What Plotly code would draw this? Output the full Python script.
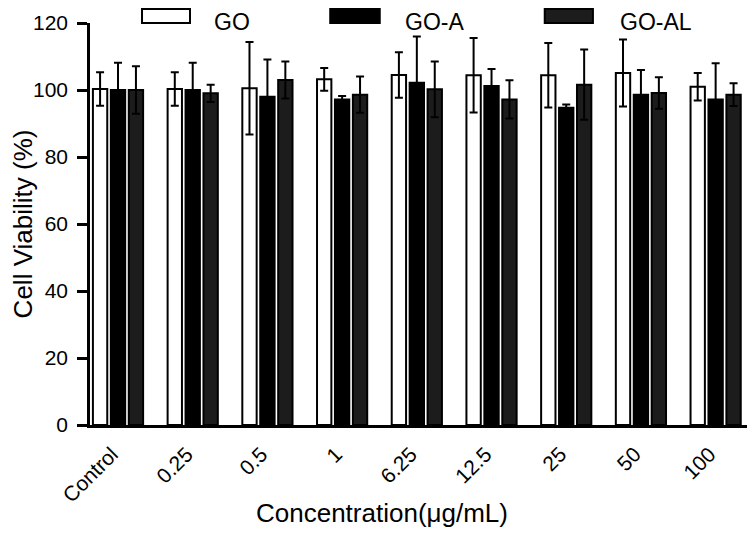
import plotly.graph_objects as go

categories = ["Control", "0.25", "0.5", "1", "6.25", "12.5", "25", "50", "100"]
series_names = ["GO", "GO-A", "GO-AL"]
go_vals = [100.3, 100.3, 100.5, 103.2, 104.5, 104.4, 104.4, 105.1, 101.0]
go_err = [5.0, 5.0, 13.8, 3.4, 6.8, 11.1, 9.6, 10.0, 4.1]
goa_vals = [100.0, 100.0, 98.0, 97.2, 102.2, 101.2, 94.7, 98.6, 97.2]
goa_err = [8.1, 8.1, 11.1, 1.0, 13.8, 5.1, 1.0, 7.4, 10.8]
goal_vals = [100.0, 99.0, 103.0, 98.6, 100.2, 97.2, 101.6, 99.1, 98.6]
goal_err = [7.1, 2.6, 5.5, 5.4, 8.3, 5.7, 10.5, 4.7, 3.4]
y_ticks = [0, 20, 40, 60, 80, 100, 120]

FONT = "Liberation Sans, Arial, sans-serif"
fills = ["#ffffff", "#000000", "#1c1c1c"]
vals = [go_vals, goa_vals, goal_vals]
errs = [go_err, goa_err, goal_err]

fig = go.Figure()
for name, v, e, c in zip(series_names, vals, errs, fills):
    fig.add_trace(go.Bar(
        x=categories, y=v, name=name,
        marker=dict(color=c, line=dict(color="#000000", width=2)),
        error_y=dict(type="data", array=e, visible=True, color="#000000",
                     thickness=2, width=4),
        showlegend=False,
    ))

# custom legend (large boxes as in the reference)
legend_items = [
    (0.0788, 0.1515, 0.187, "#ffffff"),
    (0.364, 0.439, 0.475, "#000000"),
    (0.689, 0.762, 0.801, "#1c1c1c"),
]
for (x0, x1, xt, c), name in zip(legend_items, series_names):
    fig.add_shape(type="rect", xref="paper", yref="paper", x0=x0, x1=x1,
                  y0=1.0, y1=1.0348, fillcolor=c,
                  line=dict(color="#000000", width=2))
    fig.add_annotation(xref="paper", yref="paper", x=xt, y=1.0373, text=name,
                       showarrow=False, xanchor="left", yanchor="top",
                       borderpad=0,
                       font=dict(family=FONT, size=23, color="#000000"))

# x axis title placed below the rotated labels
fig.add_annotation(xref="paper", yref="paper", x=0.442, y=-0.219,
                   text="Concentration(μg/mL)", showarrow=False,
                   xanchor="center", yanchor="middle",
                   font=dict(family=FONT, size=26, color="#000000"))

# page body has an 8px margin, so the figure is 8px smaller than the window
fig.update_layout(
    width=747, height=526,
    margin=dict(l=82, r=5, t=15, b=109),
    paper_bgcolor="white", plot_bgcolor="white",
    barmode="group", bargap=0.28, bargroupgap=0.2,
    font=dict(family=FONT, color="#000000"),
)
fig.update_xaxes(
    type="category", range=[-0.375, 8.46], automargin=False,
    showline=True, linecolor="#000000", linewidth=2.5,
    ticks="", tickangle=-45, ticklabelshift=-6, ticklabelstandoff=6,
    tickfont=dict(family=FONT, size=21, color="#000000"),
    showgrid=False, zeroline=False,
)
fig.update_yaxes(
    range=[0, 120], tickvals=y_ticks, automargin=False,
    showline=True, linecolor="#000000", linewidth=2.5,
    ticks="outside", ticklen=10, tickwidth=2.5, tickcolor="#000000",
    ticklabelstandoff=5,
    tickfont=dict(family=FONT, size=21, color="#000000"),
    title=dict(text="Cell Viability (%)", standoff=19,
               font=dict(family=FONT, size=26, color="#000000")),
    showgrid=False, zeroline=False,
)

fig.write_html("out.html")
